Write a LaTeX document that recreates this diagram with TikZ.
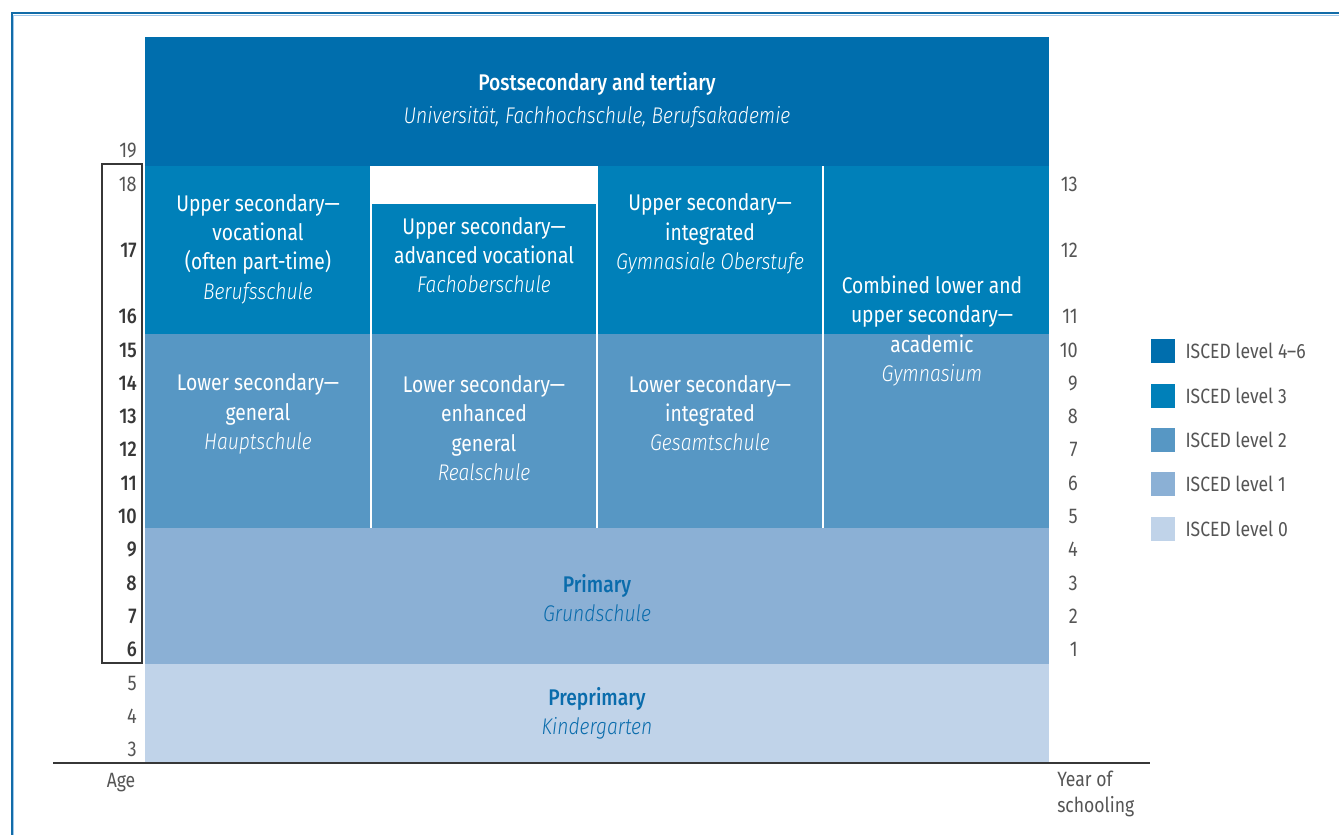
\documentclass[tikz,border=0pt]{standalone}
\usepackage{fontspec}
\setmainfont{Fira Sans}[FakeStretch=0.85, BoldFont={Fira Sans Medium}, ItalicFont={Fira Sans Light Italic}]
\usetikzlibrary{positioning}

\definecolor{lvlfour}{RGB}{0,110,173}
\definecolor{lvlthree}{RGB}{0,128,185}
\definecolor{lvltwo}{RGB}{87,151,196}
\definecolor{lvlone}{RGB}{139,176,213}
\definecolor{lvlzero}{RGB}{192,211,233}
\definecolor{frameblue}{RGB}{18,108,168}
\definecolor{framelight}{RGB}{160,200,235}
\definecolor{labelblue}{RGB}{10,108,172}
\definecolor{numgray}{RGB}{55,55,55}
\definecolor{thingray}{RGB}{85,85,85}

\tikzset{
    lbl/.style={align=center, text=white, inner sep=0pt, font=\fontsize{17}{22}\selectfont},
    lbldark/.style={lbl, text=labelblue},
    agebold/.style={anchor=east, inner sep=0pt, text=numgray, font=\fontsize{16}{18}\selectfont\bfseries},
    agethin/.style={anchor=east, inner sep=0pt, text=thingray, font=\fontsize{16}{18}\selectfont},
    year/.style={agethin},
    legbox/.style={minimum size=18pt, inner sep=0pt},
    legtext/.style={anchor=west, inner sep=0pt, text=thingray, font=\fontsize{15.5}{18}\selectfont},
    axislbl/.style={inner sep=0pt, text=thingray, align=left, font=\fontsize{15.5}{19.5}\selectfont},
}

\begin{document}
\begin{tikzpicture}[x=0.75pt, y=-0.75pt]
    \useasboundingbox (0,0) rectangle (1339,835);
    % frame
    \draw[frameblue, line width=1.5pt] (11.5,835) -- (11.5,13) -- (1339,13);
    \draw[framelight, line width=0.6pt] (13.6,835) -- (13.6,15) -- (1339,15);

    % blocks
    \fill[lvlfour] (145,37) rectangle (1049,166);
    \fill[lvlthree] (145,166) rectangle (1049,334);
    \fill[white] (371,166) rectangle (597,204);
    \fill[lvltwo] (145,334) rectangle (1049,528);
    \fill[lvlone] (145,528) rectangle (1049,664);
    \fill[lvlzero] (145,664) rectangle (1049,763);
    \foreach \x in {371,597,823} {
        \draw[white, line width=1.1pt] (\x,166) -- (\x,528);
    }

    % labels
    \node[lbl] (post) at (597,100) {\textbf{Postsecondary and tertiary}\\[3pt]\textit{Universität, Fachhochschule, Berufsakademie}};
    \node[lbl] (voc) at (258,249) {Upper secondary—\\vocational\\(often part-time)\\\textit{Berufsschule}};
    \node[lbl] (advvoc) at (484,255) {Upper secondary—\\advanced vocational\\\textit{Fachoberschule}};
    \node[lbl] (intup) at (710,234) {Upper secondary—\\integrated\\\textit{Gymnasiale Oberstufe}};
    \node[lbl] (gym) at (932,331) {Combined lower and\\upper secondary—\\academic\\\textit{Gymnasium}};
    \node[lbl] (haupt) at (258,414) {Lower secondary—\\general\\\textit{Hauptschule}};
    \node[lbl] (real) at (484,428) {Lower secondary—\\enhanced\\general\\\textit{Realschule}};
    \node[lbl] (gesamt) at (710,413) {Lower secondary—\\integrated\\\textit{Gesamtschule}};
    \node[lbldark] (prim) at (597,598) {\textbf{Primary}\\\textit{Grundschule}};
    \node[lbldark] (preprim) at (597,713) {\textbf{Preprimary}\\\textit{Kindergarten}};

    % age
    \foreach \a/\y in {19/150,18/184,5/683,4/716,3/749} {
        \node[agethin] (age\a) at (137,\y) {\a};
    }
    \foreach \a/\y in {17/250,16/316,15/350,14/383,13/416,12/449,11/483,10/516,9/549,8/583,7/616,6/649} {
        \node[agebold] (age\a) at (137,\y) {\a};
    }
    \draw[numgray, line width=0.8pt] (102,164) rectangle (142,663);

    % year of schooling
    \foreach \n/\y in {13/184,12/250,11/316,10/350,9/383,8/416,7/449,6/483,5/516,4/549,3/583,2/616,1/649} {
        \node[year] (year\n) at (1078,\y) {\n};
    }

    % legend
    \foreach \c/\t/\y in {lvlfour/4–6/351,lvlthree/3/396,lvltwo/2/440,lvlone/1/484,lvlzero/0/529} {
        \node[legbox, fill=\c] (box\c) at (1163,\y) {};
        \node[legtext, right=7.5pt of box\c] (leg\c) {ISCED level \t};
    }

    % axis
    \draw[numgray, line width=1.1pt] (53,763) -- (1150,763);
    \node[axislbl] (agelbl) at (121,783) {Age};
    \node[axislbl, anchor=north west] (yearlbl) at (1057,771) {Year of\\schooling};
\end{tikzpicture}
\end{document}
